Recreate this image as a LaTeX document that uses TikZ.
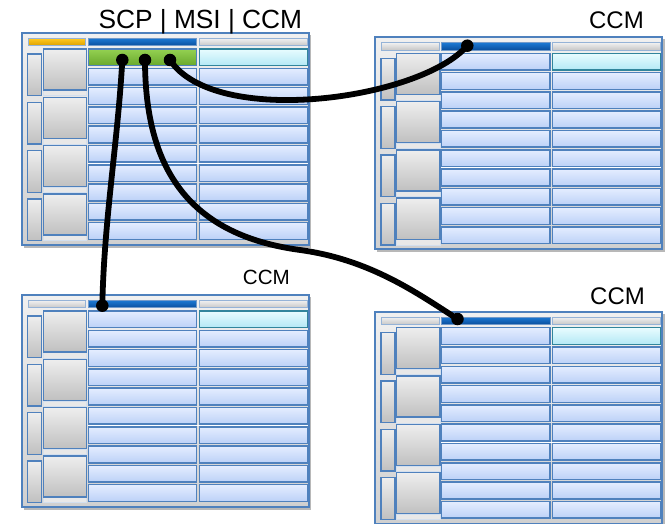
\documentclass[tikz,border=0pt]{standalone}
\usepackage{fontspec}
\setmainfont{Liberation Sans}
\definecolor{frameblue}{HTML}{4F81BD}
\definecolor{frameTop}{HTML}{F0F0F0}
\definecolor{frameBot}{HTML}{D0D0D0}
\definecolor{modTop}{HTML}{EEEEEE}
\definecolor{modBot}{HTML}{C0C0C0}
\definecolor{cellTop}{HTML}{E4EDFF}
\definecolor{cellBot}{HTML}{BCD1F7}
\definecolor{cyanTop}{HTML}{E8FCFF}
\definecolor{cyanBot}{HTML}{B3E8F5}
\definecolor{cyanEdge}{HTML}{31859C}
\definecolor{hdrTop}{HTML}{1C78D2}
\definecolor{hdrBot}{HTML}{0A4F9E}
\definecolor{orTop}{HTML}{FFC91F}
\definecolor{orBot}{HTML}{DC9F00}
\definecolor{grTop}{HTML}{94D152}
\definecolor{grBot}{HTML}{69A82C}
\tikzset{
  framebox/.style={draw=frameblue, line width=1.8pt, top color=frameTop, bottom color=frameBot},
  modbox/.style={draw=frameblue, line width=1.4pt, top color=modTop, bottom color=modBot},
  stripbox/.style={draw=frameblue!25, line width=0.6pt, fill=black!9},
  cellbox/.style={draw=frameblue, line width=1.5pt, top color=cellTop, bottom color=cellBot},
  cyanbox/.style={draw=cyanEdge, line width=1.5pt, top color=cyanTop, bottom color=cyanBot},
  greenbox/.style={draw=frameblue, line width=1.5pt, top color=grTop, bottom color=grBot},
  hdrblue/.style={draw=frameblue!80, line width=0.8pt, top color=hdrTop, bottom color=hdrBot},
  hdrgray/.style={draw=frameblue!60, line width=0.8pt, top color=frameTop, bottom color=black!22},
  hdrorange/.style={draw=frameblue!60, line width=0.8pt, top color=orTop, bottom color=orBot},
  dotnode/.style={circle, fill=black, minimum size=12.5pt, inner sep=0pt},
  wire/.style={draw=black, line width=5.8pt},
  lbl/.style={inner sep=0pt, text=black}
}
\newcommand\cratebox[4]{%
  \begin{scope}[shift={(#1,#2)}]
    \fill[black!28] (2,2) rectangle (289.5,214.5);
    \draw[framebox] (0,0) rectangle (287,212);
    \draw[#3] (6.6,5.5) rectangle (64,12.7);
    \draw[hdrblue] (66.6,5.5) rectangle (175,12.7);
    \draw[hdrgray] (177.6,5.5) rectangle (285.6,12.7);
    \foreach \k in {0,...,3}{
      \pgfmathsetmacro\ya{16+48.3*\k}
      \draw[stripbox] (21.6,\ya+41.5) rectangle (65,\ya+46.8);
      \draw[modbox] (6,\ya+5) rectangle (20,\ya+46.7);
      \draw[modbox] (21.6,\ya) rectangle (65,\ya+41);
    }
    \foreach \i in {1,...,9}{
      \pgfmathsetmacro\yb{16+19.3*\i}
      \draw[cellbox] (66.6,\yb) rectangle (175,\yb+16.7);
      \draw[cellbox] (177.6,\yb) rectangle (285.6,\yb+16.7);
    }
    \draw[#4] (66.6,16) rectangle (175,32.7);
    \draw[cyanbox] (177.6,16) rectangle (285.6,32.7);
    \draw[white, line width=0.8pt] (66,130.6) -- (286.2,130.6);
  \end{scope}}
\begin{document}
\begin{tikzpicture}[x=1pt, y=-1pt]
  \useasboundingbox (0,0) rectangle (667,524);
  \fill[white] (0,0) rectangle (667,524);
  % crates
  \cratebox{21.7}{33}{hdrorange}{greenbox}
  \cratebox{375}{37.3}{hdrgray}{cellbox}
  \cratebox{21.7}{295}{hdrgray}{cellbox}
  \cratebox{375}{311.7}{hdrgray}{cellbox}
  % labels
  \node[lbl, anchor=base west, font=\fontsize{26.3}{30}\selectfont] (t1) at (98.3,28.3) {SCP | MSI | CCM};
  \node[lbl, anchor=base east, font=\fontsize{24}{28}\selectfont] (t2) at (644,28.3) {CCM};
  \node[lbl, anchor=base west, font=\fontsize{20.6}{24}\selectfont] (t3) at (242.7,284) {CCM};
  \node[lbl, anchor=base west, font=\fontsize{24}{28}\selectfont] (t4) at (590,304) {CCM};
  % connection points
  \node[dotnode] (s1) at (122.3,60) {};
  \node[dotnode] (s2) at (145,60) {};
  \node[dotnode] (s3) at (170,60) {};
  \node[dotnode] (d2) at (467.3,45.7) {};
  \node[dotnode] (d3) at (102.3,305.7) {};
  \node[dotnode] (d4) at (457.5,319) {};
  \coordinate (m2) at (300,250);
  % connectors
  \draw[wire] (s1.center) .. controls (118,140) and (104,220) .. (d3.center);
  \draw[wire] (s2.center) .. controls (145,170) and (190,235) .. (m2)
                          .. controls (370,259.5) and (417,293) .. (d4.center);
  \draw[wire] (s3.center) .. controls (215,128) and (420,100) .. (d2.center);
\end{tikzpicture}
\end{document}
